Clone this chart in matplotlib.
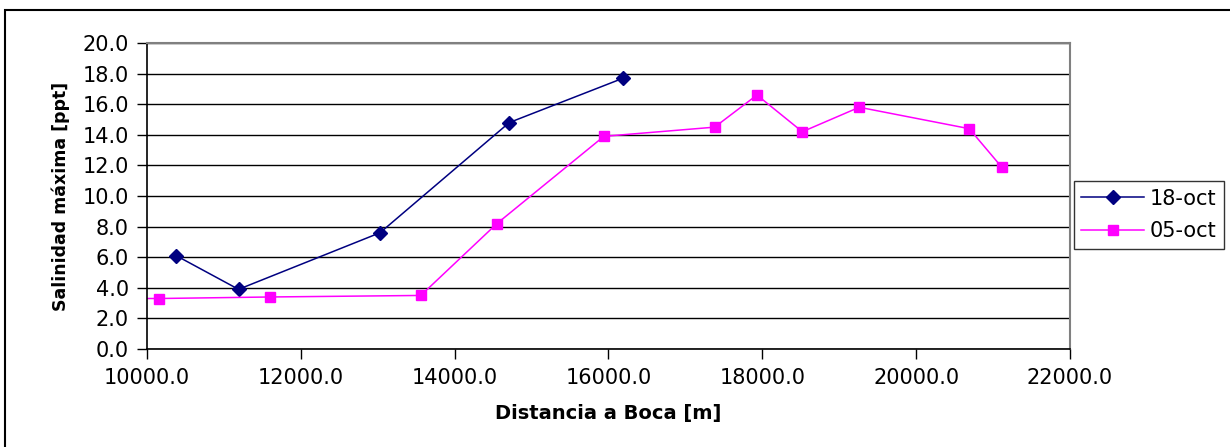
import matplotlib.pyplot as plt
from matplotlib.patches import Rectangle
from matplotlib.ticker import FormatStrFormatter, MultipleLocator

# salinidad maxima por estacion
dist_18oct = [10380, 11190, 13030, 14710, 16190]
sal_18oct = [6.1, 3.9, 7.6, 14.8, 17.7]

dist_05oct = [9900, 10160, 11600, 13560, 14550, 15940, 17380, 17930, 18520, 19260, 20690, 21110]
sal_05oct = [3.3, 3.3, 3.4, 3.5, 8.2, 13.9, 14.5, 16.6, 14.2, 15.8, 14.4, 11.9]

W, H = 1230, 447
fig = plt.figure(figsize=(W / 100, H / 100), dpi=100)

# marco exterior del grafico
fig.patches.append(Rectangle((5 / W, -0.1), 1.2, 1 - 10 / H + 0.1, transform=fig.transFigure,
                             fill=False, edgecolor='black', linewidth=1.5))

ax = fig.add_axes([147 / W, 1 - 349 / H, 923 / W, 306 / H])

ax.plot(dist_18oct, sal_18oct, color='#000080', marker='D', markersize=7,
        linewidth=1.1, label='18-oct')
ax.plot(dist_05oct, sal_05oct, color='#FF00FF', marker='s', markersize=7.5,
        linewidth=1.1, label='05-oct')

ax.set_xlim(10000, 22000)
ax.set_ylim(0, 20)
ax.xaxis.set_major_locator(MultipleLocator(2000))
ax.yaxis.set_major_locator(MultipleLocator(2))
ax.xaxis.set_major_formatter(FormatStrFormatter('%.1f'))
ax.yaxis.set_major_formatter(FormatStrFormatter('%.1f'))

ax.grid(axis='y', color='black', linewidth=1)
ax.set_axisbelow(True)
ax.tick_params(direction='out', length=7, width=1, labelsize=15)
ax.tick_params(axis='y', pad=6)
ax.tick_params(axis='x', pad=7)

for s in ['top', 'right']:
    ax.spines[s].set_color('#808080')
    ax.spines[s].set_linewidth(1.5)
for s in ['left', 'bottom']:
    ax.spines[s].set_linewidth(1.2)

ax.set_xlabel('Distancia a Boca [m]', fontsize=14, fontweight='bold', labelpad=11)
ax.set_ylabel('Salinidad máxima [ppt]', fontsize=12.5, fontweight='bold', labelpad=9)

leg = ax.legend(loc='center left', bbox_to_anchor=(1074 / W, 1 - 215 / H),
                bbox_transform=fig.transFigure, fontsize=15, frameon=True,
                fancybox=False, handlelength=3, borderaxespad=0,
                borderpad=0.35, labelspacing=0.6, handletextpad=0.3)
leg.get_frame().set_edgecolor('black')
leg.get_frame().set_linewidth(1)

fig.savefig('out.png', dpi=100)
